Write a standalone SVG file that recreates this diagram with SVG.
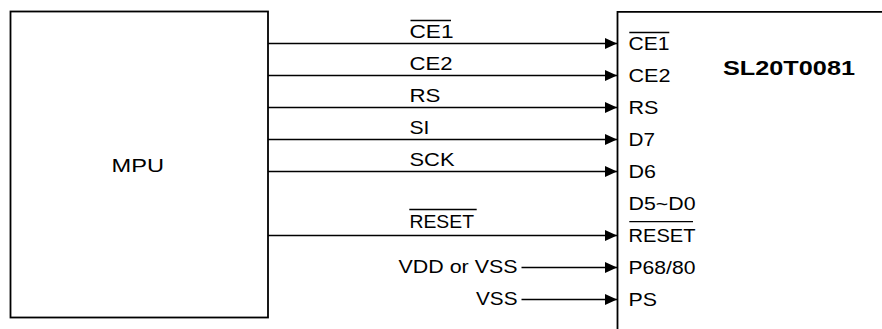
<svg xmlns="http://www.w3.org/2000/svg" width="882" height="329" viewBox="0 0 882 329">
<style>
.box{fill:#fff;stroke:#000;stroke-width:1.8}
.edge{fill:none;stroke:#000;stroke-width:1.8}
.wire{fill:none;stroke:#000;stroke-width:1.7}
.ovl{fill:none;stroke:#000;stroke-width:1.3}
text{font-family:"Liberation Sans",Arial,sans-serif;font-size:18.5px;fill:#000}
.title{font-weight:bold;font-size:19.5px}
</style>
<defs>
<marker id="arr" markerUnits="userSpaceOnUse" viewBox="0 0 12 11" refX="12" refY="5.5" markerWidth="12" markerHeight="11" orient="auto">
<path d="M0,0 L12,5.5 L0,11 Z" fill="#000"/>
</marker>
</defs>
<rect width="882" height="329" fill="#fff"/>
<g id="mpu">
<rect class="box" x="10.5" y="11.5" width="257.5" height="306"/>
<text x="111.5" y="171.5" textLength="52.5" lengthAdjust="spacingAndGlyphs">MPU</text>
</g>
<g id="sl20t0081">
<path class="edge" d="M883,11.8 H617.5 V330"/>
<text class="title" x="723" y="75" textLength="132" lengthAdjust="spacingAndGlyphs">SL20T0081</text>
<text x="628.5" y="49.5" textLength="41" lengthAdjust="spacingAndGlyphs">CE1</text>
<line class="ovl" x1="629.3" y1="32.5" x2="669.3" y2="32.5"/>
<text x="628.5" y="81.5" textLength="42" lengthAdjust="spacingAndGlyphs">CE2</text>
<text x="628.5" y="113.5" textLength="30" lengthAdjust="spacingAndGlyphs">RS</text>
<text x="628.5" y="145.5" textLength="26.5" lengthAdjust="spacingAndGlyphs">D7</text>
<text x="628.5" y="177.5" textLength="27.5" lengthAdjust="spacingAndGlyphs">D6</text>
<text x="628.5" y="209.5" textLength="67" lengthAdjust="spacingAndGlyphs">D5~D0</text>
<text x="628.5" y="241.5" textLength="67" lengthAdjust="spacingAndGlyphs">RESET</text>
<line class="ovl" x1="629.3" y1="221.7" x2="693" y2="221.7"/>
<text x="628.5" y="273.5" textLength="67" lengthAdjust="spacingAndGlyphs">P68/80</text>
<text x="628.5" y="305.5" textLength="28.5" lengthAdjust="spacingAndGlyphs">PS</text>
</g>
<g id="connectors">
<line class="wire" x1="268" y1="43.5" x2="617" y2="43.5" marker-end="url(#arr)"/>
<line class="wire" x1="268" y1="75.5" x2="617" y2="75.5" marker-end="url(#arr)"/>
<line class="wire" x1="268" y1="107.5" x2="617" y2="107.5" marker-end="url(#arr)"/>
<line class="wire" x1="268" y1="139.5" x2="617" y2="139.5" marker-end="url(#arr)"/>
<line class="wire" x1="268" y1="171.5" x2="617" y2="171.5" marker-end="url(#arr)"/>
<line class="wire" x1="268" y1="235.5" x2="617" y2="235.5" marker-end="url(#arr)"/>
<line class="wire" x1="521.5" y1="267.5" x2="617" y2="267.5" marker-end="url(#arr)"/>
<line class="wire" x1="521.5" y1="299.5" x2="617" y2="299.5" marker-end="url(#arr)"/>
<text x="409.5" y="37.5" textLength="44" lengthAdjust="spacingAndGlyphs">CE1</text>
<line class="ovl" x1="410.5" y1="20.5" x2="451" y2="20.5"/>
<text x="409.5" y="69.5" textLength="43" lengthAdjust="spacingAndGlyphs">CE2</text>
<text x="409.5" y="101.5" textLength="31" lengthAdjust="spacingAndGlyphs">RS</text>
<text x="409.5" y="133.5" textLength="20" lengthAdjust="spacingAndGlyphs">SI</text>
<text x="409.5" y="165.5" textLength="45" lengthAdjust="spacingAndGlyphs">SCK</text>
<text x="409.5" y="228" textLength="64.5" lengthAdjust="spacingAndGlyphs">RESET</text>
<line class="ovl" x1="409.3" y1="209.5" x2="476.7" y2="209.5"/>
<text x="517.5" y="273" text-anchor="end" textLength="119" lengthAdjust="spacingAndGlyphs">VDD or VSS</text>
<text x="517.5" y="304.5" text-anchor="end" textLength="41.5" lengthAdjust="spacingAndGlyphs">VSS</text>
</g>
</svg>
